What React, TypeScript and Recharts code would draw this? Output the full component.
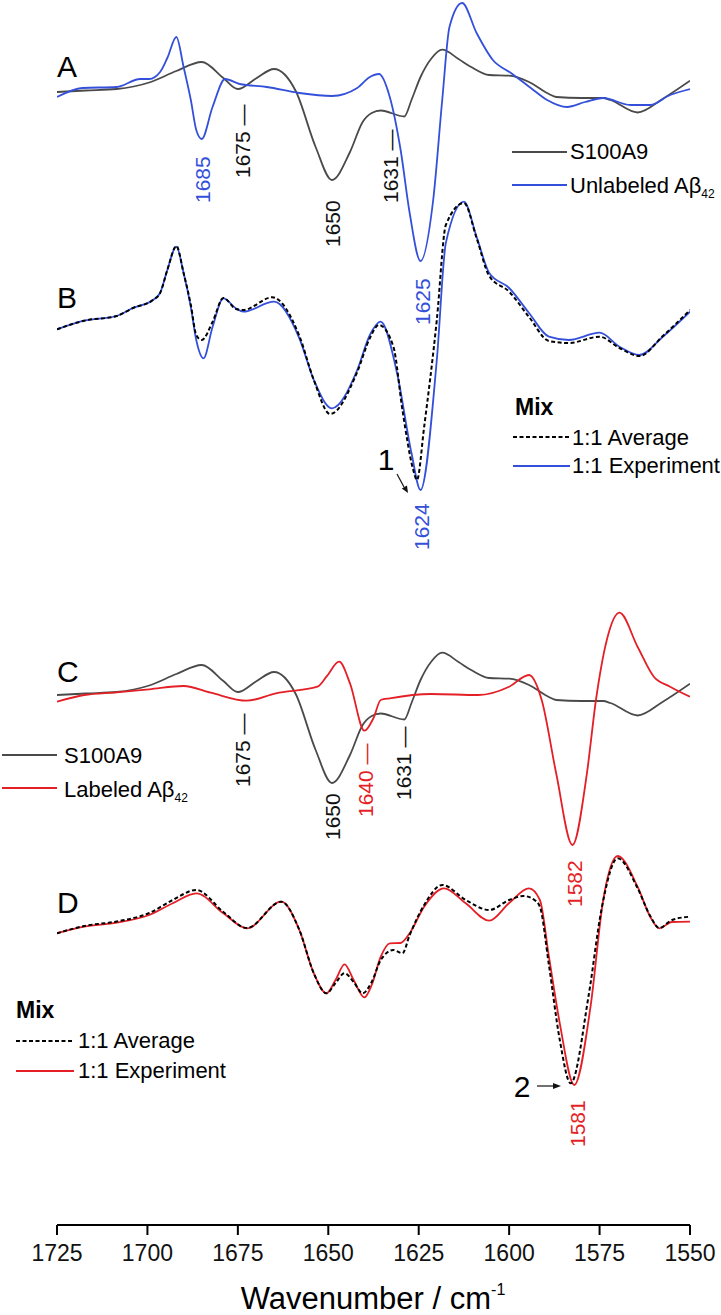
import { Line, LineChart, XAxis, YAxis } from "recharts";

const FONT = '"Liberation Sans", Arial, Helvetica, sans-serif';
const GRAY = "#4a4a4a";
const BLUE = "#3450da";
const RED = "#e41f26";

const TICKS = [1725, 1700, 1675, 1650, 1625, 1600, 1575, 1550];

// second-derivative spectra, arbitrary units (positive = up)
const S100A9_WN = [1725, 1717, 1708.5, 1699.5, 1692, 1685, 1679, 1675, 1670, 1665, 1659, 1653.5, 1649, 1644, 1640.5, 1638, 1635.5, 1629, 1627, 1624.5, 1621.5, 1618.5, 1614, 1610.5, 1605.5, 1600, 1594.5, 1589, 1587, 1580, 1574, 1572, 1564.5, 1557.5, 1550];
const S100A9 = [0, 1.5, 3, 9.5, 21, 30, 14, 3, 13.5, 23, 1, -55, -88, -60, -30, -21, -18.5, -24.5, -8, 15, 33.5, 42.3, 33, 25, 17, 16.3, 10, -2, -5, -6, -6, -8, -20.5, -6.7, 11.3];

const UNLAB_WN = [1725, 1718, 1708.5, 1702, 1699.5, 1696.5, 1694.5, 1692, 1690, 1688, 1686.5, 1685, 1682, 1678.5, 1674.5, 1667, 1658, 1649, 1642, 1638.5, 1636, 1633, 1630, 1627.5, 1624.5, 1621, 1618.5, 1616.5, 1613, 1609, 1604.5, 1599.5, 1594, 1589.5, 1584, 1579, 1574, 1566.5, 1561, 1555.5, 1550];
const UNLAB = [-5, 4, 5, 13, 13, 20, 34, 55, 25, -8, -38, -47, -15, 13, 8, 5, -1, -4, 4, 15, 18, -5, -58, -121, -169, -108, -8, 65, 89, 59, 32, 19, 4, -8, -15, -10, -6, -13, -13, -3, 3];

const MIXB_AVG_WN = [1725, 1717.5, 1708.5, 1704, 1698.5, 1696.5, 1694.5, 1692, 1690, 1688, 1686.5, 1685, 1682, 1679, 1675.5, 1673.5, 1665.5, 1658, 1654, 1649.5, 1642, 1638.5, 1636, 1632, 1629.5, 1626.5, 1625.5, 1623.5, 1620, 1617.5, 1612.5, 1609, 1605.5, 1600, 1594.5, 1589, 1583.5, 1575, 1569.5, 1564, 1557.5, 1550];
const MIXB_AVG = [0.7, 9.3, 14, 22, 30, 37, 60, 84, 57, 25, -5, -10, 8, 32, 21, 20, 32.7, -6, -50, -84, -42, -8, 5, -16.7, -80, -140, -150, -97, 10, 105, 127, 92, 54, 38.3, 13, -11, -13, -6.7, -18, -26, -6, 20];

const MIXB_EXP_WN = [1725, 1717.5, 1708.5, 1704, 1698.5, 1696.5, 1694.5, 1692, 1690, 1688, 1686.5, 1684.5, 1682, 1679, 1675.5, 1673.5, 1665, 1658, 1654, 1649, 1642, 1638.5, 1635.5, 1631, 1627, 1624.5, 1620, 1617.5, 1612.5, 1609, 1605.5, 1600, 1594.5, 1589, 1583.5, 1575, 1569.5, 1564, 1557.5, 1550];
const MIXB_EXP = [0.7, 9.3, 14, 22, 30, 37, 60, 83.3, 57, 23, -10, -28.3, 3, 31.7, 21.5, 18.3, 28.3, -8.3, -50, -78.3, -40, -5, 8.3, -43, -123, -160, -30, 87, 128.3, 93.3, 57, 42, 17, -6.7, -10, -2.7, -16.7, -25, -6.7, 18.3];

const LAB_WN = [1725, 1717.5, 1708.5, 1699.5, 1690, 1682.5, 1672.5, 1664.5, 1653, 1650.5, 1647, 1644, 1640, 1637.5, 1635.5, 1633, 1621.5, 1608.5, 1600, 1594.5, 1591, 1587, 1582.5, 1578.5, 1576, 1573, 1569.5, 1564.5, 1560, 1555.5, 1550];
const LAB = [-6.7, 0, 2.7, 5.7, 9, 2.3, -5.7, 1.7, 8.3, 18.3, 33.3, 11.7, -35.7, -23, -5, -3.3, 1, 0, 8.3, 20, -5, -78.3, -150, -78.3, -5, 55, 82.3, 48.3, 18.3, 8.3, -1.7];

const MIXD_AVG_WN = [1725, 1717.5, 1708.5, 1699.5, 1693, 1686.5, 1679, 1672.5, 1663, 1658, 1654, 1650.5, 1648, 1645.5, 1643, 1640.5, 1638, 1635.5, 1632, 1629.5, 1627.5, 1623.5, 1618.5, 1612, 1605.5, 1600, 1596, 1593, 1591.5, 1589, 1586, 1583, 1578, 1574.5, 1570, 1564.5, 1561, 1558.5, 1555, 1550];
const MIXD_AVG = [-0.3, 7, 11.5, 20, 33, 43, 21, 5, 31.3, 3, -40.3, -60.3, -50, -40.3, -49, -60.3, -49, -27, -17, -20.3, -2, 28, 48, 33, 23, 33, 37, 33, 26.3, -32, -107, -150.3, -62, 23, 74.7, 45, 17, 5, 13, 16.3];

const MIXD_EXP_WN = [1725, 1717.5, 1708.5, 1699.5, 1693, 1686.5, 1679, 1672.5, 1663, 1658, 1654, 1650.5, 1648, 1645.5, 1643, 1640, 1638, 1635.5, 1633, 1630, 1627.5, 1623.5, 1618, 1612, 1605.5, 1600, 1594.5, 1591.5, 1589, 1586, 1582, 1577.5, 1574, 1570, 1564.5, 1561, 1558.5, 1555, 1550];
const MIXD_EXP = [-0.3, 6.3, 10.3, 18, 29.7, 39.7, 19.7, 4.7, 31.3, 3, -40.3, -60.3, -47, -31.3, -47, -64.3, -52, -23.7, -10.3, -10, -0.3, 26.3, 44.7, 29.7, 12.3, 30, 44.7, 33, -23.7, -90.3, -152, -73.7, 33, 77, 46.3, 16.3, 4.7, 11, 11.3];

// vertical stacking of the four panels
const OFFSET = { A: 1133, B: 895, C: 530, D: 292 };

const toSeries = (wn: number[], vals: number[], off: number) =>
  wn.map((w, i) => ({ w, y: vals[i] + off }));

const SERIES = [
  { key: "a1", data: toSeries(S100A9_WN, S100A9, OFFSET.A), color: GRAY },
  { key: "a2", data: toSeries(UNLAB_WN, UNLAB, OFFSET.A), color: BLUE },
  { key: "b2", data: toSeries(MIXB_EXP_WN, MIXB_EXP, OFFSET.B), color: BLUE },
  { key: "b1", data: toSeries(MIXB_AVG_WN, MIXB_AVG, OFFSET.B), color: "#000", dash: "4 2.5" },
  { key: "c1", data: toSeries(S100A9_WN, S100A9, OFFSET.C), color: GRAY },
  { key: "c2", data: toSeries(LAB_WN, LAB, OFFSET.C), color: RED },
  { key: "d2", data: toSeries(MIXD_EXP_WN, MIXD_EXP, OFFSET.D), color: RED },
  { key: "d1", data: toSeries(MIXD_AVG_WN, MIXD_AVG, OFFSET.D), color: "#000", dash: "4 2.5" },
];

function Tick({ x, y, payload }: any) {
  return (
    <text x={x} y={y + 16} textAnchor="middle" dominantBaseline="central" fontSize={23} fontFamily={FONT} fill="#111">
      {payload.value}
    </text>
  );
}

// rotated peak label, reading bottom to top
function Peak({ x, y, text, color = "#111" }: { x: number; y: number; text: string; color?: string }) {
  return (
    <text transform={`translate(${x},${y}) rotate(-90)`} dominantBaseline="central" fontSize={21} fill={color}>
      {text}
    </text>
  );
}

function Overlay() {
  return (
    <svg width={721} height={1315} style={{ position: "absolute", left: 0, top: 0, pointerEvents: "none" }} fontFamily={FONT}>
      {/* panel letters */}
      <text x={57} y={77} fontSize={30}>A</text>
      <text x={57} y={308} fontSize={30}>B</text>
      <text x={57} y={682} fontSize={30}>C</text>
      <text x={57} y={913} fontSize={30}>D</text>

      {/* A */}
      <Peak x={202} y={203} text="1685" color={BLUE} />
      <Peak x={242} y={178} text="1675 —" />
      <Peak x={332} y={247} text="1650" />
      <Peak x={390} y={203} text="1631 —" />
      <Peak x={422} y={325} text="1625" color={BLUE} />
      <line x1={512} x2={567} y1={152} y2={152} stroke={GRAY} strokeWidth={1.8} />
      <text x={570} y={159} fontSize={22}>S100A9</text>
      <line x1={512} x2={567} y1={185} y2={185} stroke={BLUE} strokeWidth={1.8} />
      <text x={570} y={193} fontSize={22}>Unlabeled Aβ<tspan fontSize={12} dy={5}>42</tspan></text>

      {/* B */}
      <Peak x={421} y={550} text="1624" color={BLUE} />
      <text x={386} y={470} fontSize={30} textAnchor="middle">1</text>
      <line x1={397} y1={474} x2={404} y2={487} stroke="#111" strokeWidth={1.2} />
      <polygon points="408,493 407,485.5 401.8,488.5" fill="#111" />
      <text x={515} y={415} fontSize={23} fontWeight="bold">Mix</text>
      <line x1={513} x2={570} y1={437} y2={437} stroke="#000" strokeWidth={1.8} strokeDasharray="4 2.5" />
      <text x={572} y={445} fontSize={22}>1:1 Average</text>
      <line x1={513} x2={570} y1={466} y2={466} stroke={BLUE} strokeWidth={1.8} />
      <text x={572} y={473} fontSize={22}>1:1 Experiment</text>

      {/* C */}
      <Peak x={242} y={787} text="1675 —" />
      <Peak x={332} y={840} text="1650" />
      <Peak x={365} y={817} text="1640 —" color={RED} />
      <Peak x={403} y={800} text="1631 —" />
      <Peak x={574} y={907} text="1582" color={RED} />
      <line x1={2} x2={57} y1={755} y2={755} stroke={GRAY} strokeWidth={1.8} />
      <text x={64} y={763} fontSize={22}>S100A9</text>
      <line x1={2} x2={57} y1={788} y2={788} stroke={RED} strokeWidth={1.8} />
      <text x={64} y={797} fontSize={22}>Labeled Aβ<tspan fontSize={12} dy={5}>42</tspan></text>

      {/* D */}
      <Peak x={577} y={1147} text="1581" color={RED} />
      <text x={522} y={1097} fontSize={30} textAnchor="middle">2</text>
      <line x1={537} y1={1086} x2={554} y2={1086} stroke="#111" strokeWidth={1.2} />
      <polygon points="561,1086 553,1083 553,1089" fill="#111" />
      <text x={16} y={1018} fontSize={23} fontWeight="bold">Mix</text>
      <line x1={16} x2={74} y1={1041} y2={1041} stroke="#000" strokeWidth={1.8} strokeDasharray="4 2.5" />
      <text x={78} y={1048} fontSize={22}>1:1 Average</text>
      <line x1={16} x2={74} y1={1071} y2={1071} stroke={RED} strokeWidth={1.8} />
      <text x={78} y={1078} fontSize={22}>1:1 Experiment</text>

      {/* axis title */}
      <text x={373} y={1309} fontSize={31} textAnchor="middle">
        Wavenumber / cm<tspan fontSize={16} dy={-14}>-1</tspan>
      </text>
    </svg>
  );
}

export default function App() {
  return (
    <div style={{ position: "absolute", left: 0, top: 0, width: 721, height: 1315, background: "#fff", fontFamily: FONT }}>
      <LineChart width={721} height={1315} margin={{ top: 0, right: 31, left: 57, bottom: 0 }}>
        <XAxis
          type="number"
          dataKey="w"
          domain={[1550, 1725]}
          reversed
          ticks={TICKS}
          interval={0}
          allowDataOverflow
          height={90}
          tickSize={10}
          axisLine={{ stroke: "#000", strokeWidth: 2 }}
          tickLine={{ stroke: "#000", strokeWidth: 2 }}
          tick={<Tick />}
        />
        <YAxis type="number" domain={[0, 1225]} hide allowDataOverflow />
        {SERIES.map((s) => (
          <Line
            key={s.key}
            data={s.data}
            dataKey="y"
            type="monotone"
            stroke={s.color}
            strokeWidth={s.dash ? 2 : 1.8}
            strokeDasharray={s.dash}
            dot={false}
            activeDot={false}
            isAnimationActive={false}
          />
        ))}
      </LineChart>
      <Overlay />
    </div>
  );
}
